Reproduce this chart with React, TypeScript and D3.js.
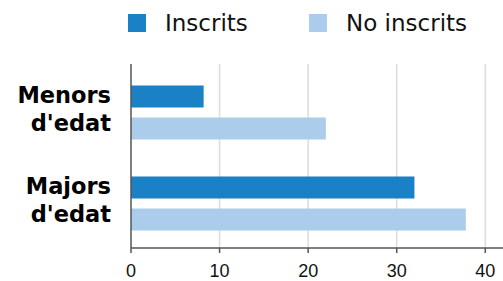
import React from "react";
import * as d3 from "d3";

const categories = ["Menors d'edat", "Majors d'edat"];
const series = ["Inscrits", "No inscrits"];
const inscrits = [8.2, 32];
const noInscrits = [22, 37.8];
const xTicks = [0, 10, 20, 30, 40];
const colors = ["#1a81c6", "#abcdeb"];

const W = 503;
const H = 281;
const left = 131;
const right = 503;
const top = 64;
const bottom = 248;

export default function App() {
  const x = d3.scaleLinear().domain([0, 42]).range([left, right]);
  const y = d3.scaleBand<string>().domain(categories).range([67, 249]);
  const inner = d3
    .scaleBand<string>()
    .domain(series)
    .range([0, y.bandwidth()])
    .paddingInner(0.3125)
    .paddingOuter(0.578);
  const values = [inscrits, noInscrits];

  return (
    <svg
      width={W}
      height={H}
      style={{ position: "absolute", left: 0, top: 0, display: "block" }}
    >
      <rect x={0} y={0} width={W} height={H} fill="#fff" />
      {/* legend */}
      {series.map((s, i) => {
        const lx = [128, 309][i];
        return (
          <g key={s}>
            <rect x={lx} y={14} width={18} height={18} fill={colors[i]} />
            <text
              x={lx + 37}
              y={31}
              fontFamily="DejaVu Sans"
              fontSize={23}
              fill="#111"
            >
              {s}
            </text>
          </g>
        );
      })}
      {/* gridlines */}
      {xTicks
        .filter((t) => t > 0)
        .map((t) => (
          <line
            key={t}
            x1={x(t)}
            x2={x(t)}
            y1={top}
            y2={bottom}
            stroke="#dcdcdc"
            strokeWidth={1.5}
          />
        ))}
      {/* bars */}
      {categories.map((c, ci) =>
        series.map((s, si) => (
          <rect
            key={c + s}
            x={x(0)}
            y={(y(c) as number) + (inner(s) as number)}
            width={x(values[si][ci]) - x(0)}
            height={inner.bandwidth()}
            fill={colors[si]}
          />
        ))
      )}
      {/* axes */}
      <line x1={left} x2={left} y1={top} y2={bottom} stroke="#555" strokeWidth={1.5} />
      <line x1={left} x2={right} y1={bottom} y2={bottom} stroke="#555" strokeWidth={1.5} />
      {xTicks.map((t) => (
        <g key={t}>
          <line
            x1={x(t)}
            x2={x(t)}
            y1={bottom}
            y2={bottom + 5}
            stroke="#555"
            strokeWidth={1.5}
          />
          <text
            x={x(t)}
            y={277}
            textAnchor="middle"
            fontFamily="Liberation Sans"
            fontSize={18}
            fill="#111"
          >
            {t}
          </text>
        </g>
      ))}
      {/* category labels */}
      {categories.map((c) => {
        const cy = (y(c) as number) + y.bandwidth() / 2;
        const parts = c.split(" ");
        return (
          <text
            key={c}
            textAnchor="end"
            fontFamily="DejaVu Sans"
            fontWeight="bold"
            fontSize={22.5}
            fill="#000"
          >
            <tspan x={111} y={cy - 10}>
              {parts[0]}
            </tspan>
            <tspan x={111} y={cy + 18}>
              {parts[1]}
            </tspan>
          </text>
        );
      })}
    </svg>
  );
}
